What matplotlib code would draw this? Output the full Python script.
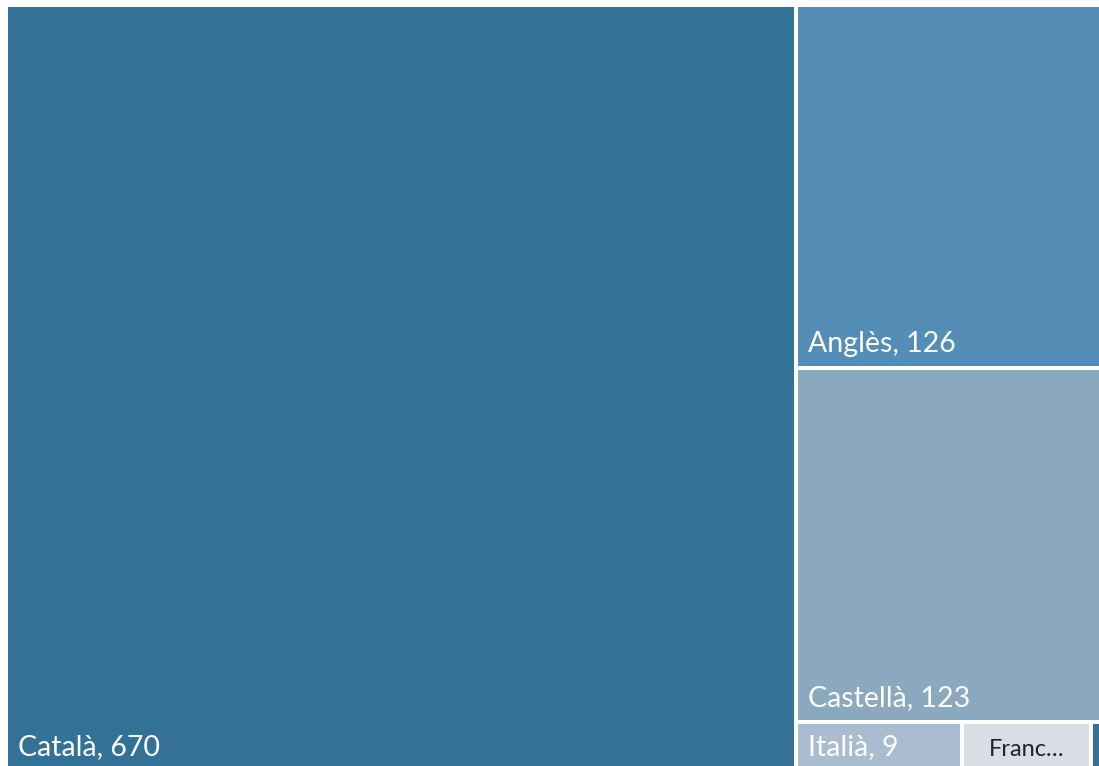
import matplotlib
matplotlib.use("Agg")
import matplotlib.pyplot as plt
from matplotlib.patches import Rectangle

# data
names = ["Català", "Anglès", "Castellà", "Italià", "Francès", "Altres"]
values = [670, 126, 123, 9, 7, 1]
colors = ["#347196", "#548db5", "#8aa9bf", "#a9bcd0", "#d9dee5", "#347196"]
text_colors = ["white", "white", "white", "white", "#222222", "white"]

plt.rcParams['font.family'] = ['Lato', 'DejaVu Sans']

# treemap area in pixel units (chart is clipped at right and bottom)
X0, Y0, W, H = 6, 5, 1103.5, 766


def worst(row, side, scale):
    s = sum(row) * scale
    t = s / side
    r = []
    for a in row:
        l = a * scale / t
        r.append(max(t / l, l / t))
    return max(r)


def squarify(vals, x, y, w, h):
    total = sum(vals)
    scale = w * h / total
    rects = []
    i = 0
    while i < len(vals):
        side = min(w, h)
        row = [vals[i]]
        j = i + 1
        while j < len(vals) and worst(row + [vals[j]], side, scale) <= worst(row, side, scale):
            row.append(vals[j])
            j += 1
        t = sum(row) * scale / side
        pos = 0
        for a in row:
            l = a * scale / t
            if w >= h:
                rects.append((x, y + pos, t, l))
            else:
                rects.append((x + pos, y, l, t))
            pos += l
        if w >= h:
            x += t
            w -= t
        else:
            y += t
            h -= t
        i = j
    return rects


rects = squarify(values, X0, Y0, W, H)

fig = plt.figure(figsize=(10.99, 7.66), dpi=100)
ax = fig.add_axes([0, 0, 1, 1])
ax.set_xlim(0, 1099)
ax.set_ylim(766, 0)
ax.axis('off')

for (x, y, w, h), name, v, c, tc in zip(rects, names, values, colors, text_colors):
    ax.add_patch(Rectangle((x, y), w, h, facecolor=c, edgecolor='white', linewidth=2.88))
    label = f"{name}, {v}"
    if w > 150:
        ax.text(x + 12, y + h - 15.5, label, color=tc, fontsize=20.5,
                va='baseline', ha='left')
    elif w > 60:
        ax.text(x + w / 2, y + h - 15.5, name[:5] + "…", color=tc, fontsize=17,
                va='baseline', ha='center')

fig.savefig("out.png", dpi=100)
